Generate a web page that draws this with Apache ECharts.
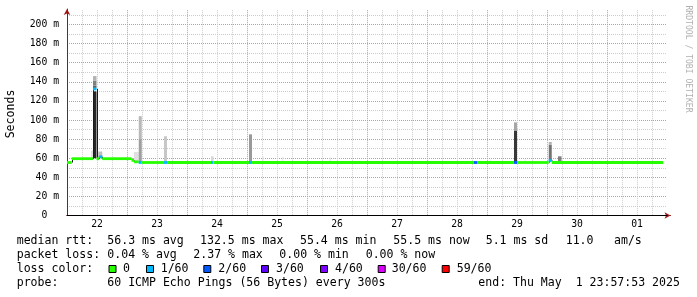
<!DOCTYPE html>
<html><head><meta charset="utf-8">
<script src="https://cdn.jsdelivr.net/npm/echarts@6/dist/echarts.min.js"></script>
<style>html,body{margin:0;padding:0;background:#fff}#c{width:697px;height:297px}</style>
</head><body><div id="c"></div>
<script>
// x values are hours since Apr 22 00:00 (2025)
const dayLabels = ['22','23','24','25','26','27','28','29','30','01'];

// median rtt (ms) as steps: start hour, value, loss (pings lost of 60)
const medianStart = [0,1.9,10.4,11.8,12.8,14.1,25.8,26.8,28.7,29.9,38.8,40.0,57.6,58.6,72.8,74.0,162.8,164.0,178.8,180.0,192.7,193.9];
const medianValue = [55.5,59.5,132.5,59.5,61.5,59.5,57.7,56.2,55.5,55.5,55.5,55.5,55.5,55.5,55.5,55.5,55.5,55.5,55.5,55.5,57.5,55.5];
const medianLoss  = [0,0,1,0,1,0,0,0,1,0,1,0,1,0,1,0,2,0,2,0,1,0];
const medianEnd = 238.5;

// smoke (ping spread): start hour, end hour, low ms, high ms, density 0..1
const smokeStart   = [9.6,10.4,10.4,10.4,10.4,12.5,12.5,26.8,28.7,28.7,38.8,57.6,72.8,78.0,86.0,105.0,169.0,178.8,178.8,183.0,192.7,192.7,196.4,218.0];
const smokeEnd     = [10.4,11.8,11.8,11.8,11.8,14.1,14.1,28.7,29.9,29.9,40.0,58.6,74.0,78.6,86.6,105.6,169.6,180.0,180.0,183.6,193.9,193.9,197.8,218.6];
const smokeLow     = [59.5,60,133,136,141,60,63,56,56,80,56,56,56,56,56,56,56,56,89,56,57,74,56,56];
const smokeHigh    = [68,130,136,141,146,63,67,66.5,80,104,83,62,85,62,61.5,61,59,89,97.5,59,74,77,62,59];
const smokeDensity = [0.12,0.85,0.6,0.5,0.3,0.4,0.25,0.12,0.38,0.28,0.22,0.15,0.4,0.1,0.07,0.08,0.06,0.78,0.35,0.06,0.55,0.3,0.5,0.06];

// loss legend
const lossLabels = ['0','1/60','2/60','3/60','4/60','30/60','59/60'];
const lossColors = ['#26ff00','#00b8ff','#0059ff','#5e00ff','#7e00ff','#dd00ff','#ff0000'];

// statistics text
const line1 = ['median rtt:','56.3 ms avg','132.5 ms max','55.4 ms min','55.5 ms now','5.1 ms sd','11.0','am/s'];
const line2 = ['packet loss:','0.04 % avg','2.37 % max','0.00 % min','0.00 % now'];
const line4 = ['probe:','60 ICMP Echo Pings (56 Bytes) every 300s','end: Thu May  1 23:57:53 2025'];

// layout (pixel positions of text pieces)
const line1X = [16.7,107.3,200,300,393.3,485.7,565.7,614];
const line2X = [16.7,107.3,193.3,279.3,365.7];
const line4X = [16.7,107.3,478.3];
const boxX = [108.5,146,203.3,261,320,377.7,441.7];
const lblX = [123,160.7,218.3,276,335,391.7,456.7];

const FONT = '11.55px "DejaVu Sans Mono"';
const graphics = [];
function txt(s, x, y){ graphics.push({type:'text', x:x, y:y, style:{text:s, font:FONT, fill:'#000', align:'left', verticalAlign:'middle'}}); }
line1.forEach((s,i)=>txt(s,line1X[i],241.3));
line2.forEach((s,i)=>txt(s,line2X[i],255.3));
txt('loss color:',16.7,269.3);
lossLabels.forEach((s,i)=>{
  graphics.push({type:'rect', shape:{x:boxX[i]+0.5, y:265.5, width:7, height:7}, style:{fill:lossColors[i], stroke:'#000', lineWidth:1}});
  txt(s,lblX[i],269.3);
});
line4.forEach((s,i)=>txt(s,line4X[i],283));
graphics.push({type:'text', x:11, y:114, rotation:Math.PI/2, style:{text:'Seconds', font:FONT, fill:'#000', align:'center', verticalAlign:'middle'}});
graphics.push({type:'text', x:688, y:59, rotation:-Math.PI/2, style:{text:'RRDTOOL / TOBI OETIKER', font:'8.1px "DejaVu Sans Mono"', fill:'#b0b0b0', align:'center', verticalAlign:'middle'}});

const smokeData = smokeStart.map((s,i)=>[s, smokeEnd[i], smokeLow[i], smokeHigh[i], smokeDensity[i]]);
const segData = medianStart.map((s,i)=>[s, i+1<medianStart.length?medianStart[i+1]:medianEnd, medianValue[i], medianLoss[i]]);
const riseData = medianStart.slice(1).map((s,i)=>[s, medianValue[i], medianValue[i+1]]);

const GRAY='#cccccc', RED='#e89090';
const labelFont = {fontFamily:'DejaVu Sans Mono', fontSize:9.75, color:'#000'};
const arrowLine = {show:true, onZero:false, symbol:['none','arrow'], symbolSize:[5,6], lineStyle:{color:'#a01818', width:1}};

const option = {
  animation:false,
  backgroundColor:'#ffffff',
  grid:[
    {left:67, top:10.2, width:600, height:205.3},
    {left:67, top:9, width:603.5, height:206.5}
  ],
  xAxis:[
    {type:'value', gridIndex:0, min:0, max:240, interval:24,
     axisLine:{show:true, onZero:false, lineStyle:{color:'#000', width:1}},
     axisTick:{show:false}, axisLabel:{show:false},
     minorTick:{show:false, splitNumber:4},
     splitLine:{show:true, showMinLine:false, showMaxLine:false, lineStyle:{color:RED, width:1, type:[1,1]}},
     minorSplitLine:{show:true, lineStyle:{color:GRAY, width:1, type:[1,1]}}},
    {type:'value', gridIndex:0, position:'bottom', min:0, max:240, interval:12,
     axisLine:{show:false}, axisTick:{show:false}, splitLine:{show:false},
     axisLabel:Object.assign({show:true, margin:4, interval:0,
       formatter:v=>{const k=(v-12)/24; return (Number.isInteger(k)&&k>=0&&k<dayLabels.length)?dayLabels[k]:'';}}, labelFont)},
    {type:'value', gridIndex:1, min:0, max:241.4, z:-1,
     axisLine:arrowLine, axisTick:{show:false}, axisLabel:{show:false}, splitLine:{show:false}}
  ],
  yAxis:[
    {type:'value', gridIndex:0, min:0, max:215, interval:20,
     axisLine:{show:true, onZero:false, lineStyle:{color:'#3c3c3c', width:1}},
     axisTick:{show:false},
     axisLabel:Object.assign({show:true, margin:8, align:'right',
       formatter:v=>(v%20===0 ? (v===0?'0  ':v+' m') : '')}, labelFont),
     minorTick:{show:false, splitNumber:2},
     splitLine:{show:true, showMinLine:false, showMaxLine:false, lineStyle:{color:RED, width:1, type:[1,1]}},
     minorSplitLine:{show:true, lineStyle:{color:GRAY, width:1, type:[1,1]}}},
    {type:'value', gridIndex:1, min:0, max:216, z:-1,
     axisLine:arrowLine, axisTick:{show:false}, axisLabel:{show:false}, splitLine:{show:false}}
  ],
  series:[
    {type:'custom', name:'smoke', xAxisIndex:0, yAxisIndex:0, z:2, data:smokeData,
     encode:{x:[0,1], y:[2,3]},
     renderItem:(params, api)=>{
       const p0 = api.coord([api.value(0), api.value(3)]);
       const p1 = api.coord([api.value(1), api.value(2)]);
       const g = Math.round(255*(1-api.value(4)));
       return {type:'rect', shape:{x:p0[0], y:p0[1], width:p1[0]-p0[0], height:p1[1]-p0[1]}, style:{fill:'rgb('+g+','+g+','+g+')'}};
     }},
    {type:'custom', name:'median steps', xAxisIndex:0, yAxisIndex:0, z:3, data:riseData,
     encode:{x:0, y:[1,2]},
     renderItem:(params, api)=>{
       const a = api.coord([api.value(0), api.value(1)]);
       const b = api.coord([api.value(0), api.value(2)]);
       const x = Math.round(a[0]) + 0.5;
       return {type:'line', shape:{x1:x, y1:a[1], x2:x, y2:b[1]}, style:{stroke:'#1a1a1a', lineWidth:1}};
     }},
    {type:'custom', name:'median', xAxisIndex:0, yAxisIndex:0, z:4, data:segData,
     encode:{x:[0,1], y:2},
     renderItem:(params, api)=>{
       const p0 = api.coord([api.value(0), api.value(2)]);
       const p1 = api.coord([api.value(1), api.value(2)]);
       return {type:'rect', shape:{x:p0[0], y:p0[1]-1.4, width:p1[0]-p0[0], height:2.8}, style:{fill:lossColors[api.value(3)]}};
     }}
  ],
  graphic:graphics
};
const chart = echarts.init(document.getElementById('c'));
chart.setOption(option);
</script>
</body></html>
